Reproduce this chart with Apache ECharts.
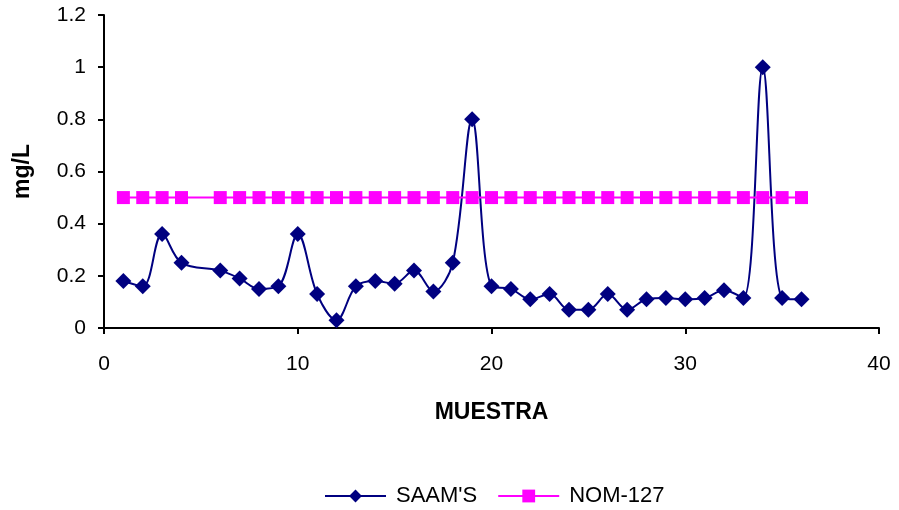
<!DOCTYPE html>
<html><head><meta charset="utf-8">
<script src="https://cdn.jsdelivr.net/npm/echarts@6/dist/echarts.min.js"></script>
<style>html,body{margin:0;padding:0;background:#fff}#c{width:899px;height:510px}</style>
</head><body><div id="c"></div>
<script>
const muestraX = [1,2,3,4,6,7,8,9,10,11,12,13,14,15,16,17,18,19,20,21,22,23,24,25,26,27,28,29,30,31,32,33,34,35,36];
const saams = [0.18,0.16,0.36,0.25,0.22,0.19,0.15,0.16,0.36,0.13,0.03,0.16,0.18,0.17,0.22,0.14,0.25,0.80,0.16,0.15,0.11,0.13,0.07,0.07,0.13,0.07,0.11,0.115,0.11,0.115,0.145,0.115,1.0,0.115,0.11];
const nom127 = muestraX.map(() => 0.5);
const seriesNames = ["SAAM'S", "NOM-127"];
const font = "'Liberation Sans', Arial, sans-serif";

const chart = echarts.init(document.getElementById('c'), null, {renderer:'canvas'});
chart.setOption({
  animation:false,
  grid:{left:104, top:15, right:20, bottom:182},
  xAxis:{type:'value', min:0, max:40, interval:10,
    name:'MUESTRA', nameLocation:'middle', nameGap:73,
    nameTextStyle:{fontFamily:font, fontSize:23, fontWeight:'bold', color:'#000'},
    axisLine:{lineStyle:{color:'#000', width:2}},
    axisTick:{show:true, inside:false, length:6, lineStyle:{color:'#000', width:2}},
    axisLabel:{fontFamily:font, fontSize:21, color:'#000', margin:26},
    splitLine:{show:false}},
  yAxis:{type:'value', min:0, max:1.2, interval:0.2,
    name:'mg/L', nameLocation:'middle', nameGap:70, nameRotate:90,
    nameTextStyle:{fontFamily:font, fontSize:23, fontWeight:'bold', color:'#000'},
    axisLine:{show:true, lineStyle:{color:'#000', width:2}},
    axisTick:{show:true, length:6, lineStyle:{color:'#000', width:2}},
    axisLabel:{fontFamily:font, fontSize:21, color:'#000', margin:18},
    splitLine:{show:false}},
  legend:{top:480, left:319, itemWidth:61, itemHeight:16, itemGap:20,
    textStyle:{fontFamily:font, fontSize:22, color:'#000', padding:[0,0,0,5]},
    data:seriesNames},
  series:[
    {name:seriesNames[0], type:'line', smooth:0.35,
     data:muestraX.map((x,i)=>[x,saams[i]]),
     symbol:'diamond', symbolSize:16,
     itemStyle:{color:'#000080'}, lineStyle:{color:'#000080', width:2}},
    {name:seriesNames[1], type:'line',
     data:muestraX.map((x,i)=>[x,nom127[i]]),
     symbol:'rect', symbolSize:13,
     itemStyle:{color:'#FF00FF'}, lineStyle:{color:'#FF00FF', width:2}}
  ]
});
</script></body></html>
